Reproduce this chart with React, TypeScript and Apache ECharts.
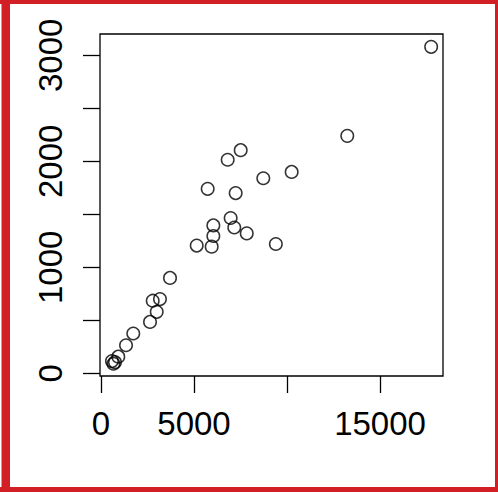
import React, { useEffect, useRef } from 'react';
import * as echarts from 'echarts';

const xValues = [17750, 13240, 7510, 6810, 10250, 8725, 5735, 7240, 6970, 6040, 7165, 7835, 6040, 5145, 5950, 9400, 3710, 3170, 2780, 2995, 2635, 1735, 1345, 590, 670, 750, 930];
const yValues = [3080, 2240, 2105, 2015, 1900, 1840, 1740, 1700, 1465, 1395, 1375, 1320, 1295, 1205, 1195, 1220, 900, 700, 685, 580, 485, 375, 265, 115, 90, 105, 157];
const xTickValues = [0, 5000, 10000, 15000];
const xLabelValues = [0, 5000, 15000];
const yTickValues = [0, 500, 1000, 1500, 2000, 2500, 3000];
const yLabelValues = [0, 1000, 2000, 3000];

const FONT = '"Liberation Sans", Arial, Helvetica, sans-serif';
const RED = '#d21f26';

export default function App() {
  const ref = useRef<HTMLDivElement>(null);
  useEffect(() => {
    const chart = echarts.init(ref.current!, null, { renderer: 'svg' });
    chart.setOption({
      animation: false,
      backgroundColor: '#fff',
      grid: {
        left: 100, top: 34, width: 343, height: 342,
        show: true, borderColor: '#000', borderWidth: 1.3, backgroundColor: 'transparent'
      },
      xAxis: {
        type: 'value', min: -54, max: 18387,
        splitLine: { show: false },
        axisLine: { show: false, onZero: false },
        axisTick: { show: true, customValues: xTickValues, length: 17, inside: false, lineStyle: { color: '#000', width: 1.3 } },
        axisLabel: { customValues: xLabelValues, formatter: (v: number) => String(v), fontSize: 33, color: '#000', fontFamily: FONT, margin: 31 }
      },
      yAxis: {
        type: 'value', min: -25.5, max: 3201,
        splitLine: { show: false },
        axisLine: { show: false, onZero: false },
        axisTick: { show: true, customValues: yTickValues, length: 17, inside: false, lineStyle: { color: '#000', width: 1.3 } },
        axisLabel: { customValues: yLabelValues, formatter: (v: number) => String(v), fontSize: 33, color: '#000', fontFamily: FONT, margin: 33, rotate: 90 }
      },
      series: [{
        type: 'scatter',
        data: xValues.map((x, i) => [x, yValues[i]]),
        symbol: 'circle',
        symbolSize: 12.5,
        silent: true,
        itemStyle: { color: 'rgba(0,0,0,0)', borderColor: '#000', borderWidth: 1.5 }
      }],
      graphic: [
        { type: 'rect', z: 100, shape: { x: 1.5, y: 0, width: 8.5, height: 492 }, style: { fill: RED } },
        { type: 'rect', z: 100, shape: { x: 0, y: 0, width: 498, height: 4 }, style: { fill: RED } },
        { type: 'rect', z: 100, shape: { x: 495, y: 0, width: 3, height: 492 }, style: { fill: RED } },
        { type: 'rect', z: 100, shape: { x: 0, y: 487, width: 498, height: 5 }, style: { fill: RED } }
      ]
    });
    return () => chart.dispose();
  }, []);
  return <div ref={ref} style={{ position: 'fixed', left: 0, top: 0, width: 498, height: 492 }} />;
}
